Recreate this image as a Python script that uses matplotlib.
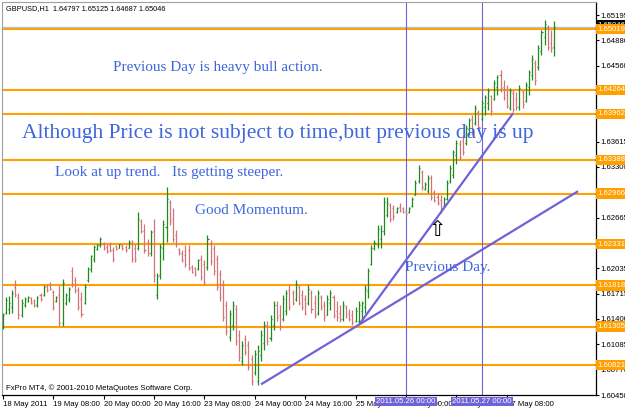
import numpy as np
import matplotlib.pyplot as plt
import matplotlib.transforms as mtransforms

# GBPUSD H1 bars (open, high, low, close), 18 May 16:00 onwards
opens = [1.6130, 1.6148, 1.6152, 1.6155, 1.6180, 1.6168, 1.6145, 1.6157, 1.6162, 1.6166,
         1.6163, 1.6157, 1.6170, 1.6170, 1.6181, 1.6182, 1.6174, 1.6162, 1.6170, 1.6135,
         1.6160, 1.6165, 1.6200, 1.6188, 1.6176, 1.6165, 1.6160, 1.6188, 1.6202, 1.6215,
         1.6227, 1.6232, 1.6234, 1.6230, 1.6232, 1.6226, 1.6231, 1.6229, 1.6232, 1.6230,
         1.6229, 1.6235, 1.6228, 1.6228, 1.6262, 1.6250, 1.6236, 1.6222, 1.6250, 1.6170,
         1.6195, 1.6228, 1.6255,
         1.6286, 1.6265, 1.6245, 1.6227, 1.6222, 1.6220, 1.6226, 1.6205, 1.6203, 1.6202,
         1.6215, 1.6208, 1.6205, 1.6235, 1.6228, 1.6215, 1.6196, 1.6182, 1.6158, 1.6118,
         1.6132, 1.6152, 1.6120, 1.6088, 1.6115, 1.6108, 1.6090, 1.6074, 1.6062, 1.6095,
         1.6110, 1.6132, 1.6116, 1.6132, 1.6158, 1.6145, 1.6140, 1.6150, 1.6176, 1.6172,
         1.6165, 1.6180, 1.6170, 1.6165, 1.6160, 1.6172, 1.6160, 1.6148, 1.6168, 1.6158,
         1.6145, 1.6160, 1.6168, 1.6150, 1.6148, 1.6140, 1.6155, 1.6148, 1.6145, 1.6138,
         1.6138, 1.6150, 1.6155, 1.6175, 1.6208, 1.6228, 1.6232, 1.6240, 1.6250, 1.6270,
         1.6282, 1.6278, 1.6273, 1.6280, 1.6278, 1.6275, 1.6273, 1.6281, 1.6295, 1.6312,
         1.6324, 1.6302, 1.6300, 1.6316, 1.6298, 1.6292, 1.6288, 1.6281, 1.6290, 1.6312,
         1.6320, 1.6345, 1.6358, 1.6362,
         1.6360, 1.6372, 1.6390, 1.6385, 1.6398, 1.6390, 1.6405, 1.6410, 1.6418, 1.6415,
         1.6430, 1.6445, 1.6430, 1.6420, 1.6404, 1.6422, 1.6415, 1.6405, 1.6425, 1.6412,
         1.6430, 1.6445, 1.6460, 1.6455, 1.6475, 1.6492, 1.6505, 1.6485, 1.64797]
highs = [1.6147, 1.6167, 1.6169, 1.6176, 1.6188, 1.6172, 1.6165, 1.6167, 1.6169, 1.6167,
         1.6165, 1.6169, 1.6172, 1.6182, 1.6184, 1.6186, 1.6176, 1.6169, 1.6182, 1.6190,
         1.6172, 1.6180, 1.6205, 1.6192, 1.6180, 1.6174, 1.6184, 1.6205, 1.6220, 1.6232,
         1.6234, 1.6242, 1.6236, 1.6234, 1.6236, 1.6230, 1.6232, 1.6234, 1.6234, 1.6232,
         1.6238, 1.6238, 1.6234, 1.6274, 1.6265, 1.6259, 1.6240, 1.6251, 1.6265, 1.6197,
         1.6234, 1.6263, 1.6305,
         1.6288, 1.6278, 1.6251, 1.6228, 1.6226, 1.6232, 1.6232, 1.6207, 1.6205, 1.6215,
         1.6220, 1.6213, 1.6245, 1.6238, 1.6232, 1.6220, 1.6201, 1.6188, 1.6163, 1.6151,
         1.6163, 1.6157, 1.6126, 1.6113, 1.6120, 1.6113, 1.6095, 1.6101, 1.6107, 1.6126,
         1.6138, 1.6138, 1.6145, 1.6163, 1.6163, 1.6157, 1.6170, 1.6176, 1.6182, 1.6176,
         1.6188, 1.6182, 1.6176, 1.6170, 1.6182, 1.6176, 1.6170, 1.6176, 1.6170, 1.6163,
         1.6170, 1.6176, 1.6170, 1.6163, 1.6157, 1.6163, 1.6157, 1.6153, 1.6151, 1.6155,
         1.6163, 1.6163, 1.6182, 1.6203, 1.6232, 1.6238, 1.6257, 1.6257, 1.6292, 1.6292,
         1.6285, 1.6282, 1.6280, 1.6285, 1.6280, 1.6276, 1.6280, 1.6292, 1.6313, 1.6332,
         1.6326, 1.6311, 1.6320, 1.6320, 1.6301, 1.6297, 1.6295, 1.6292, 1.6313, 1.6332,
         1.6351, 1.6363, 1.6363, 1.6370,
         1.6382, 1.6391, 1.6395, 1.6407, 1.6401, 1.6413, 1.6420, 1.6428, 1.6420, 1.6438,
         1.6445, 1.6451, 1.6438, 1.6432, 1.6428, 1.6426, 1.6423, 1.6432, 1.6426, 1.6436,
         1.6451, 1.6470, 1.6463, 1.6482, 1.6501, 1.6513, 1.6507, 1.6501, 1.65125]
lows = [1.6128, 1.6146, 1.6146, 1.6148, 1.6167, 1.6140, 1.6142, 1.6155, 1.6161, 1.6159,
        1.6155, 1.6155, 1.6163, 1.6169, 1.6174, 1.6176, 1.6151, 1.6161, 1.6131, 1.6131,
        1.6157, 1.6161, 1.6180, 1.6172, 1.6151, 1.6142, 1.6159, 1.6186, 1.6199, 1.6211,
        1.6226, 1.6230, 1.6226, 1.6222, 1.6224, 1.6211, 1.6226, 1.6228, 1.6226, 1.6224,
        1.6228, 1.6211, 1.6211, 1.6226, 1.6247, 1.6222, 1.6219, 1.6219, 1.6186, 1.6165,
        1.6190, 1.6213, 1.6236,
        1.6257, 1.6236, 1.6230, 1.6220, 1.6211, 1.6205, 1.6201, 1.6197, 1.6194, 1.6201,
        1.6188, 1.6182, 1.6201, 1.6207, 1.6195, 1.6176, 1.6163, 1.6138, 1.6120, 1.6113,
        1.6126, 1.6107, 1.6088, 1.6082, 1.6095, 1.6076, 1.6057, 1.6070, 1.6057, 1.6088,
        1.6101, 1.6107, 1.6113, 1.6126, 1.6138, 1.6126, 1.6138, 1.6145, 1.6151, 1.6157,
        1.6163, 1.6157, 1.6151, 1.6145, 1.6157, 1.6148, 1.6141, 1.6145, 1.6151, 1.6138,
        1.6145, 1.6151, 1.6141, 1.6138, 1.6136, 1.6138, 1.6141, 1.6138, 1.6133, 1.6136,
        1.6134, 1.6138, 1.6147, 1.6166, 1.6207, 1.6226, 1.6229, 1.6229, 1.6245, 1.6267,
        1.6261, 1.6263, 1.6272, 1.6273, 1.6272, 1.6270, 1.6272, 1.6280, 1.6295, 1.6310,
        1.6301, 1.6301, 1.6297, 1.6288, 1.6286, 1.6282, 1.6272, 1.6280, 1.6288, 1.6310,
        1.6316, 1.6334, 1.6338, 1.6345,
        1.6357, 1.6370, 1.6370, 1.6382, 1.6376, 1.6388, 1.6395, 1.6401, 1.6395, 1.6413,
        1.6420, 1.6423, 1.6413, 1.6403, 1.6401, 1.6398, 1.6401, 1.6401, 1.6403, 1.6411,
        1.6420, 1.6438, 1.6432, 1.6451, 1.6470, 1.6482, 1.6476, 1.6473, 1.64687]
closes = [1.6145, 1.6164, 1.6160, 1.6172, 1.6170, 1.6145, 1.6160, 1.6165, 1.6168, 1.6160,
          1.6157, 1.6167, 1.6165, 1.6180, 1.6176, 1.6178, 1.6155, 1.6168, 1.6135, 1.6185,
          1.6170, 1.6178, 1.6184, 1.6176, 1.6155, 1.6146, 1.6180, 1.6202, 1.6218, 1.6230,
          1.6232, 1.6240, 1.6228, 1.6225, 1.6226, 1.6215, 1.6227, 1.6233, 1.6228, 1.6226,
          1.6236, 1.6215, 1.6215, 1.6265, 1.6250, 1.6226, 1.6222, 1.6248, 1.6195, 1.6194,
          1.6230, 1.6258, 1.6290,
          1.6262, 1.6240, 1.6234, 1.6222, 1.6214, 1.6208, 1.6204, 1.6199, 1.6196, 1.6213,
          1.6192, 1.6186, 1.6240, 1.6212, 1.6200, 1.6180, 1.6168, 1.6143, 1.6125, 1.6146,
          1.6158, 1.6112, 1.6093, 1.6108, 1.6099, 1.6080, 1.6062, 1.6096, 1.6100, 1.6120,
          1.6132, 1.6112, 1.6140, 1.6158, 1.6142, 1.6130, 1.6165, 1.6172, 1.6155, 1.6160,
          1.6184, 1.6160, 1.6155, 1.6148, 1.6178, 1.6152, 1.6145, 1.6172, 1.6155, 1.6142,
          1.6165, 1.6172, 1.6145, 1.6142, 1.6140, 1.6158, 1.6145, 1.6140, 1.6136, 1.6150,
          1.6158, 1.6160, 1.6178, 1.6200, 1.6228, 1.6235, 1.6252, 1.6250, 1.6286, 1.6285,
          1.6265, 1.6268, 1.6279, 1.6276, 1.6274, 1.6271, 1.6279, 1.6290, 1.6310, 1.6328,
          1.6305, 1.6309, 1.6316, 1.6292, 1.6289, 1.6285, 1.6278, 1.6290, 1.6310, 1.6328,
          1.6348, 1.6360, 1.6342, 1.6348,
          1.6378, 1.6388, 1.6374, 1.6404, 1.6380, 1.6410, 1.6417, 1.6425, 1.6400, 1.6435,
          1.6442, 1.6428, 1.6416, 1.6406, 1.6425, 1.6402, 1.6405, 1.6428, 1.6408, 1.6432,
          1.6448, 1.6465, 1.6438, 1.6478, 1.6498, 1.6508, 1.6480, 1.6478, 1.65046]

levels = [1.65019, 1.64264, 1.63962, 1.63388, 1.62966, 1.62331, 1.61818, 1.61305, 1.60821]
bid = 1.65046
price_ticks = [1.65195, 1.64880, 1.64560, 1.64245, 1.63930, 1.63615, 1.63300, 1.62985,
               1.62665, 1.62350, 1.62035, 1.61715, 1.61400, 1.61085, 1.60770, 1.60450]
time_ticks = [0, 16, 32, 48, 64, 80, 96, 112, 128, 144, 160]
time_labels = ['18 May 2011', '19 May 08:00', '20 May 00:00', '20 May 16:00', '23 May 08:00',
               '24 May 00:00', '24 May 16:00', '25 May 08:00', '26 May 00:00', '26 May 16:00',
               '27 May 08:00']
day_lines = [128, 152]
day_labels = ['2011.05.26 00:00', '2011.05.27 00:00']
# trend lines: (bar, price) end points
trend_long = ([82.0, 182.6], [1.60583, 1.62995])
trend_steep = ([113.4, 162.0], [1.61345, 1.63970])

notes = [
    (35.0, 1.64535, 'Previous Day is heavy bull action.', 11),
    (6.0, 1.63720, 'Although Price is not subject to time,but previous day is up', 15.5),
    (16.5, 1.63233, 'Look at up trend.   Its getting steeper.', 11),
    (61.0, 1.62758, 'Good Momentum.', 11),
    (127.8, 1.62040, 'Previous Day.', 11),
]

up_col = '#1f8a1f'
dn_col = '#d2737a'
orange = '#ffa000'
slate = '#6f62d8'
note_col = '#3f66dc'

fig = plt.figure(figsize=(6.25, 4.09), dpi=100)
ax = fig.add_axes([2 / 625, 1 - 395 / 409, 594 / 625, 393 / 409])

x = np.arange(len(opens))
o = np.array(opens)
h = np.array(highs)
l = np.array(lows)
c = np.array(closes)
cols = np.where(c >= o, up_col, dn_col)

for yv in levels:
    ax.axhline(yv, color=orange, lw=1.5, zorder=1)
ax.axhline(bid, color='#c0c0c0', lw=1.0, zorder=1)
for dl in day_lines:
    ax.axvline(dl, color=slate, lw=0.8, zorder=1)

ax.vlines(x, l, h, colors=cols, lw=0.9, zorder=3)
ax.hlines(o, x - 0.33, x, colors=cols, lw=0.9, zorder=3)
ax.hlines(c, x, x + 0.33, colors=cols, lw=0.9, zorder=3)

ax.plot(*trend_long, color=slate, lw=1.6, zorder=4, solid_capstyle='butt')
ax.plot(*trend_steep, color=slate, lw=1.6, zorder=4, solid_capstyle='butt')

ax.set_xlim(-0.22, 188.3)
ax.set_ylim(1.60450, 1.65358)

for xn, yn, txt, fs in notes:
    ax.text(xn, yn, txt, color=note_col, fontsize=fs, family='Liberation Serif',
            ha='left', va='center', zorder=5)

# hollow arrow
ax.text(138.0, 1.62508, '\u21e7', fontsize=15, family='DejaVu Sans', color='black',
        ha='center', va='center', zorder=5)

ax.text(0.006, 0.008, 'FxPro MT4, \u00a9 2001-2010 MetaQuotes Software Corp.',
        transform=ax.transAxes, fontsize=5.6, family='Liberation Sans', ha='left', va='bottom')
ax.text(0.006, 0.993, 'GBPUSD,H1  1.64797 1.65125 1.64687 1.65046',
        transform=ax.transAxes, fontsize=5.3, family='Liberation Sans', ha='left', va='top')

# axes styling
for side in ['left', 'top']:
    ax.spines[side].set_color('#a0a0a0')
for side in ['right', 'bottom']:
    ax.spines[side].set_color('black')
    ax.spines[side].set_linewidth(0.9)

ax.yaxis.tick_right()
ax.set_yticks(price_ticks)
ax.set_yticklabels([f'{p:.5f}' for p in price_ticks], fontsize=5.6, family='Liberation Sans')
ax.tick_params(axis='y', length=2, width=0.8, pad=1)
ax.set_xticks(time_ticks)
ax.set_xticklabels(time_labels, fontsize=5.6, family='Liberation Sans', ha='left')
ax.tick_params(axis='x', length=3, width=0.8, pad=1)

trans_y = mtransforms.blended_transform_factory(ax.transAxes, ax.transData)
ax.text(1.003, bid + 0.00022, f'{bid:.5f}', transform=trans_y, fontsize=5.6,
        family='Liberation Sans', color='white', ha='left', va='center', clip_on=False,
        zorder=6, bbox=dict(boxstyle='square,pad=0.2', fc='black', ec='none'))
for yv in levels:
    ax.text(1.003, yv, f'{yv:.5f}', transform=trans_y, fontsize=5.6,
            family='Liberation Sans', color='white', ha='left', va='center', clip_on=False,
            zorder=7, bbox=dict(boxstyle='square,pad=0.2', fc=orange, ec='none'))

trans_x = mtransforms.blended_transform_factory(ax.transData, ax.transAxes)
for dl, lab in zip(day_lines, day_labels):
    ax.text(dl, -0.008, lab, transform=trans_x, fontsize=5.6, family='Liberation Sans',
            color='white', ha='center', va='top', clip_on=False, zorder=7,
            bbox=dict(boxstyle='square,pad=0.15', fc=slate, ec='none'))

fig.savefig('out.png', dpi=100)
